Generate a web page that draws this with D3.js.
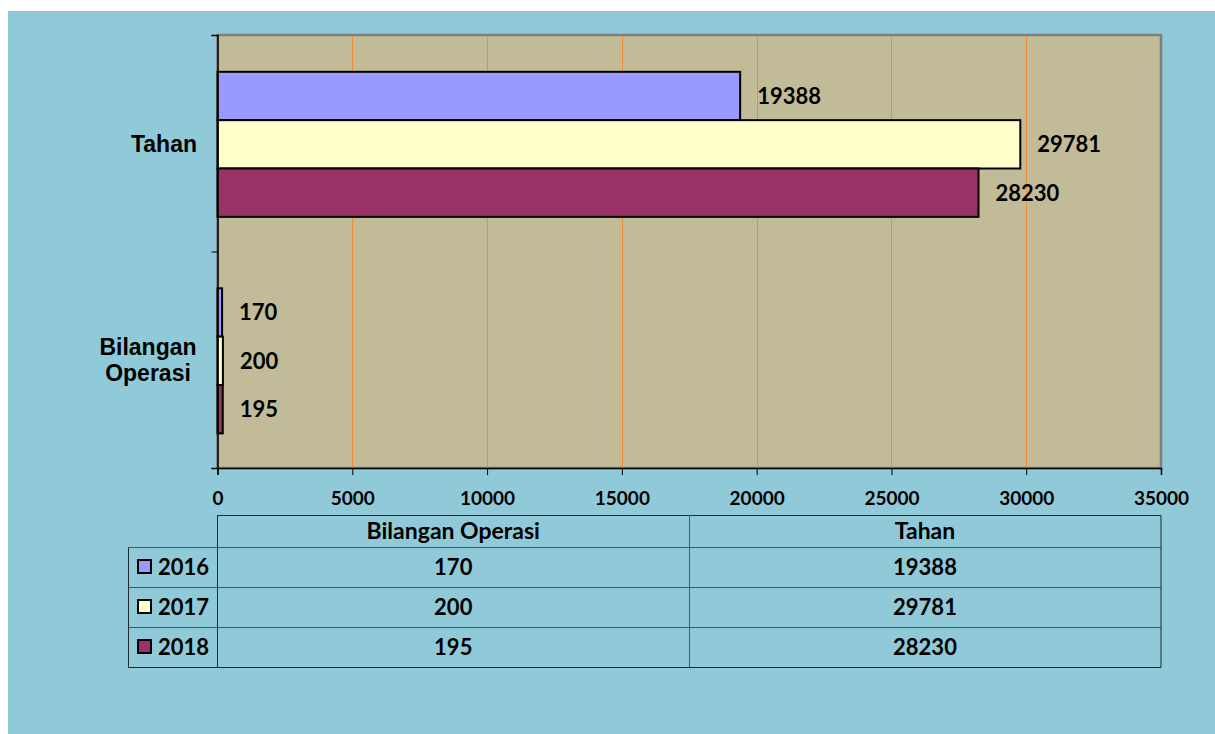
<!DOCTYPE html>
<html>
<head>
<meta charset="utf-8">
<script src="https://cdn.jsdelivr.net/npm/d3@7"></script>
<style>
  body { margin: 0; background: #fff; }
  svg { display: block; }
</style>
</head>
<body>
<div id="chart"></div>
<script>
// chart data
const categories = ["Tahan", "Bilangan Operasi"];   // top to bottom on the chart
const tableColumns = ["Bilangan Operasi", "Tahan"]; // order in the data table
const years = ["2016", "2017", "2018"];
const values2016 = [170, 19388];
const values2017 = [200, 29781];
const values2018 = [195, 28230];
const xTicks = [0, 5000, 10000, 15000, 20000, 25000, 30000, 35000];

const seriesValues = [values2016, values2017, values2018];
const colors = ["#9999FF", "#FFFFCC", "#993366"];

const W = 1215, H = 734;
const plot = { left: 217.5, right: 1161, top: 35, bottom: 468 };

const svg = d3.select("#chart").append("svg")
  .attr("width", W)
  .attr("height", H);

// page background
svg.append("rect")
  .attr("x", 8).attr("y", 11)
  .attr("width", W - 8).attr("height", H - 11)
  .attr("fill", "#90CAD8");

// scales
const x = d3.scaleLinear()
  .domain([0, 35000])
  .range([plot.left, plot.right]);

const y0 = d3.scaleBand()
  .domain(categories)
  .range([plot.top, plot.bottom])
  .padding(0);

const y1 = d3.scaleBand()
  .domain(years)
  .range([y0.bandwidth() * 0.17, y0.bandwidth() * 0.84])
  .padding(0);

// plot area
svg.append("rect")
  .attr("x", plot.left)
  .attr("y", plot.top)
  .attr("width", plot.right - plot.left)
  .attr("height", plot.bottom - plot.top)
  .attr("fill", "#C1BC97")
  .attr("stroke", "#7F7F7F")
  .attr("stroke-width", 2.5);

// grid lines
svg.append("g")
  .selectAll("line")
  .data(xTicks.slice(1, -1))
  .join("line")
  .attr("x1", d => Math.round(x(d)) + 0.5)
  .attr("x2", d => Math.round(x(d)) + 0.5)
  .attr("y1", plot.top + 1)
  .attr("y2", plot.bottom)
  .attr("stroke", "#EE8A3A")
  .attr("stroke-width", 1);

// bars
const rows = categories.map(cat => {
  const i = tableColumns.indexOf(cat);
  return { cat, vals: years.map((yr, j) => ({ yr, j, v: seriesValues[j][i] })) };
});

const groups = svg.append("g")
  .selectAll("g")
  .data(rows)
  .join("g")
  .attr("transform", d => `translate(0,${y0(d.cat)})`);

groups.selectAll("rect")
  .data(d => d.vals)
  .join("rect")
  .attr("x", x(0))
  .attr("y", d => y1(d.yr))
  .attr("width", d => Math.max(x(d.v) - x(0), 3))
  .attr("height", y1.bandwidth())
  .attr("fill", d => colors[d.j])
  .attr("stroke", "#000")
  .attr("stroke-width", 2);

groups.selectAll("text")
  .data(d => d.vals)
  .join("text")
  .attr("x", d => Math.max(x(d.v), x(0) + 3) + 17)
  .attr("y", d => y1(d.yr) + y1.bandwidth() / 2)
  .attr("dy", "0.36em")
  .style("font-family", "Lato, 'Open Sans', sans-serif")
  .style("font-weight", "bold")
  .style("font-size", "22px")
  .style("fill", "#000")
  .text(d => d.v);

// axes
const xAxis = svg.append("g")
  .attr("transform", `translate(0,${plot.bottom})`)
  .call(d3.axisBottom(x).tickValues(xTicks).tickSize(7).tickPadding(17).tickFormat(d => d));
xAxis.select(".domain").attr("stroke", "#000").attr("stroke-width", 1.5);
xAxis.selectAll(".tick line").attr("stroke", "#000");
xAxis.selectAll("text")
  .style("font-family", "Lato, 'Open Sans', sans-serif")
  .style("font-weight", "bold")
  .style("font-size", "19px")
  .style("fill", "#000");

const yAxis = svg.append("g")
  .attr("transform", `translate(${plot.left},0)`)
  .call(d3.axisLeft(d3.scaleLinear().domain([0, 2]).range([plot.bottom, plot.top]))
    .tickValues([0, 1, 2]).tickSize(6).tickFormat(""));
yAxis.select(".domain").attr("stroke", "#000").attr("stroke-width", 1.5);
yAxis.selectAll(".tick line").attr("stroke", "#000");

// category labels
const catLabels = svg.append("g")
  .style("font-family", "'Liberation Sans', Arial, sans-serif")
  .style("font-weight", "bold")
  .style("font-size", "23px")
  .style("fill", "#000");

categories.forEach((cat, k) => {
  const words = cat.split(" ");
  const cy = y0(cat) + y0.bandwidth() / 2;
  const lx = k === 0 ? 197 : 148;
  const t = catLabels.append("text")
    .attr("text-anchor", k === 0 ? "end" : "middle")
    .attr("x", lx)
    .attr("y", cy - (words.length - 1) * 13);
  words.forEach((w, i) => {
    t.append("tspan")
      .attr("x", lx)
      .attr("dy", i === 0 ? "0.36em" : "26")
      .text(w);
  });
});

// data table
const tableTop = 515, headerH = 32, rowH = 40;
const keyLeft = 128;
const colX = [plot.left, 689, plot.right];

const table = svg.append("g");
const textStyle = sel => sel
  .style("font-family", "Lato, 'Open Sans', sans-serif")
  .style("font-weight", "bold")
  .style("fill", "#000");

// inner horizontal lines
const lineY = [tableTop + headerH, tableTop + headerH + rowH, tableTop + headerH + rowH * 2];
table.selectAll(".hline")
  .data(lineY)
  .join("line")
  .attr("x1", keyLeft)
  .attr("x2", plot.right)
  .attr("y1", d => d + 0.5)
  .attr("y2", d => d + 0.5)
  .attr("stroke", "#3E5E68")
  .attr("stroke-width", 1);

// outer borders
const tableBottom = tableTop + headerH + rowH * 3;
table.append("path")
  .attr("d", `M${colX[0]},${tableTop + 0.5} H${plot.right} V${tableBottom + 0.5} H${keyLeft + 0.5} V${tableTop + headerH + 0.5}`)
  .attr("fill", "none")
  .attr("stroke", "#1A2A30")
  .attr("stroke-width", 1);
table.append("line")
  .attr("x1", colX[0]).attr("x2", colX[0])
  .attr("y1", tableTop).attr("y2", tableBottom)
  .attr("stroke", "#1A2A30");
table.append("line")
  .attr("x1", colX[1] + 0.5).attr("x2", colX[1] + 0.5)
  .attr("y1", tableTop).attr("y2", tableBottom)
  .attr("stroke", "#3E5E68");

// header
table.selectAll(".head")
  .data(tableColumns)
  .join("text")
  .attr("x", (d, i) => (colX[i] + colX[i + 1]) / 2)
  .attr("y", tableTop + headerH / 2)
  .attr("dy", "0.36em")
  .attr("text-anchor", "middle")
  .style("font-size", "23px")
  .call(textStyle)
  .text(d => d);

// rows
years.forEach((yr, j) => {
  const cy = tableTop + headerH + rowH * j + rowH / 2;
  table.append("rect")
    .attr("x", 138).attr("y", cy - 7)
    .attr("width", 13).attr("height", 13)
    .attr("fill", colors[j])
    .attr("stroke", "#000")
    .attr("stroke-width", 2);
  table.append("text")
    .attr("x", 158).attr("y", cy)
    .attr("dy", "0.36em")
    .style("font-size", "22px")
    .call(textStyle)
    .text(yr);
  tableColumns.forEach((col, i) => {
    table.append("text")
      .attr("x", (colX[i] + colX[i + 1]) / 2)
      .attr("y", cy)
      .attr("dy", "0.36em")
      .attr("text-anchor", "middle")
      .style("font-size", "22px")
      .call(textStyle)
      .text(seriesValues[j][i]);
  });
});
</script>
</body>
</html>
